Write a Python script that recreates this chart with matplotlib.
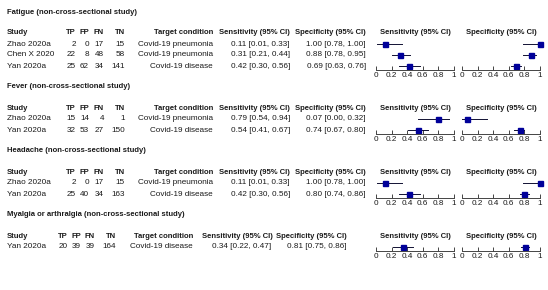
import matplotlib
matplotlib.use("Agg")
import matplotlib.pyplot as plt

plt.rcParams['font.family'] = ['Liberation Sans', 'DejaVu Sans']

# sections
section_titles = ["Fatigue (non-cross-sectional study)",
                  "Fever (non-cross-sectional study)",
                  "Headache (non-cross-sectional study)",
                  "Myalgia or arthralgia (non-cross-sectional study)"]
section_sizes = [3, 2, 2, 1]

# study rows (all sections, in order)
study = ["Zhao 2020a", "Chen X 2020", "Yan 2020a",
         "Zhao 2020a", "Yan 2020a",
         "Zhao 2020a", "Yan 2020a",
         "Yan 2020a"]
tp = [2, 22, 25, 15, 32, 2, 25, 20]
fp = [0, 8, 62, 14, 53, 0, 40, 39]
fn = [17, 48, 34, 4, 27, 17, 34, 39]
tn = [15, 58, 141, 1, 150, 15, 163, 164]
target = ["Covid-19 pneumonia", "Covid-19 pneumonia", "Covid-19 disease",
          "Covid-19 pneumonia", "Covid-19 disease",
          "Covid-19 pneumonia", "Covid-19 disease",
          "Covid-19 disease"]
sens = [0.11, 0.31, 0.42, 0.79, 0.54, 0.11, 0.42, 0.34]
sens_lo = [0.01, 0.21, 0.30, 0.54, 0.41, 0.01, 0.30, 0.22]
sens_hi = [0.33, 0.44, 0.56, 0.94, 0.67, 0.33, 0.56, 0.47]
spec = [1.00, 0.88, 0.69, 0.07, 0.74, 1.00, 0.80, 0.81]
spec_lo = [0.78, 0.78, 0.63, 0.00, 0.67, 0.78, 0.74, 0.75]
spec_hi = [1.00, 0.95, 0.76, 0.32, 0.80, 1.00, 0.86, 0.86]
tick_vals = [0, 0.2, 0.4, 0.6, 0.8, 1]
tick_labels = ["0", "0.2", "0.4", "0.6", "0.8", "1"]

W, H = 548, 290
TXT = '#1a1a1a'
BLUE = '#000099'
FS = 5.9
FSB = 5.5

fig = plt.figure(figsize=(W / 100, H / 100), dpi=100)
ax = fig.add_axes([0, 0, 1, 1])
ax.set_xlim(0, W)
ax.set_ylim(H, 0)
ax.axis('off')

title_y = [13, 87, 151, 215]
header_y = [33, 108, 172, 236]
# column x positions (right edges), last section uses a tighter layout
cols_std = dict(tp=76, fp=89, fn=104, tn=125, tc=213, se=290, sp=366)
cols_last = dict(tp=68, fp=81, fn=95, tn=116, tc=193, se=271, sp=347)
se_x0, sp_x0, panel_w = 376, 462, 78


def fmt(v, lo, hi):
    return f"{v:.2f} [{lo:.2f}, {hi:.2f}]"


def forest(x0, y_top, y_axis, n, vals, lo, hi, title, hy):
    # axes spans from 6 px above the first row down to the axis line
    top = y_top - 6
    fa = fig.add_axes([x0 / W, 1 - y_axis / H, panel_w / W, (y_axis - top) / H])
    fa.set_xlim(0, 1)
    fa.set_ylim((y_axis - y_top) / 11, -6 / 11)   # rows are 11 px apart
    for i in range(n):
        fa.plot([lo[i], hi[i]], [i, i], color='#111133', lw=0.7, clip_on=False)
        fa.plot(vals[i], i, 's', color=BLUE, ms=3.6, mec=BLUE, clip_on=False)
    for s in ['top', 'left', 'right']:
        fa.spines[s].set_visible(False)
    fa.spines['bottom'].set_color('#444444')
    fa.spines['bottom'].set_linewidth(0.7)
    fa.set_yticks([])
    fa.set_xticks(tick_vals)
    fa.set_xticklabels(tick_labels)
    fa.tick_params(axis='x', direction='in', length=3, width=0.7, color='#444444',
                   labelsize=FS, labelcolor=TXT, pad=1.5)
    fa.patch.set_visible(False)
    ax.text(x0 + panel_w / 2, hy, title, ha='center', va='center',
            fontsize=FSB, fontweight='bold', color=TXT)


start = 0
for k, n in enumerate(section_sizes):
    c = cols_last if k == len(section_sizes) - 1 else cols_std
    hy = header_y[k]
    ax.text(7, title_y[k], section_titles[k], ha='left', va='center',
            fontsize=FSB, fontweight='bold', color=TXT)
    hdr = [(7, 'Study', 'left'), (c['tp'], 'TP', 'right'), (c['fp'], 'FP', 'right'),
           (c['fn'], 'FN', 'right'), (c['tn'], 'TN', 'right'),
           (c['tc'], 'Target condition', 'right'),
           (c['se'] + (2 if k == 3 else 0), 'Sensitivity (95% CI)', 'right'),
           (c['sp'], 'Specificity (95% CI)', 'right')]
    for x, t, ha in hdr:
        ax.text(x, hy, t, ha=ha, va='center', fontsize=FSB, fontweight='bold', color=TXT)
    for i in range(n):
        j = start + i
        y = hy + 11 * (i + 1)
        row = [(7, study[j], 'left'), (c['tp'], str(tp[j]), 'right'),
               (c['fp'], str(fp[j]), 'right'), (c['fn'], str(fn[j]), 'right'),
               (c['tn'], str(tn[j]), 'right'), (c['tc'], target[j], 'right'),
               (c['se'], fmt(sens[j], sens_lo[j], sens_hi[j]), 'right'),
               (c['sp'], fmt(spec[j], spec_lo[j], spec_hi[j]), 'right')]
        for x, t, ha in row:
            ax.text(x, y, t, ha=ha, va='center', fontsize=FS, color=TXT)
    y_top = hy + 11
    y_axis = hy + 11 * n + 4
    sl = slice(start, start + n)
    forest(se_x0, y_top, y_axis, n, sens[sl], sens_lo[sl], sens_hi[sl], 'Sensitivity (95% CI)', hy)
    forest(sp_x0, y_top, y_axis, n, spec[sl], spec_lo[sl], spec_hi[sl], 'Specificity (95% CI)', hy)
    start += n

fig.savefig('out.png', dpi=100, facecolor='white')
